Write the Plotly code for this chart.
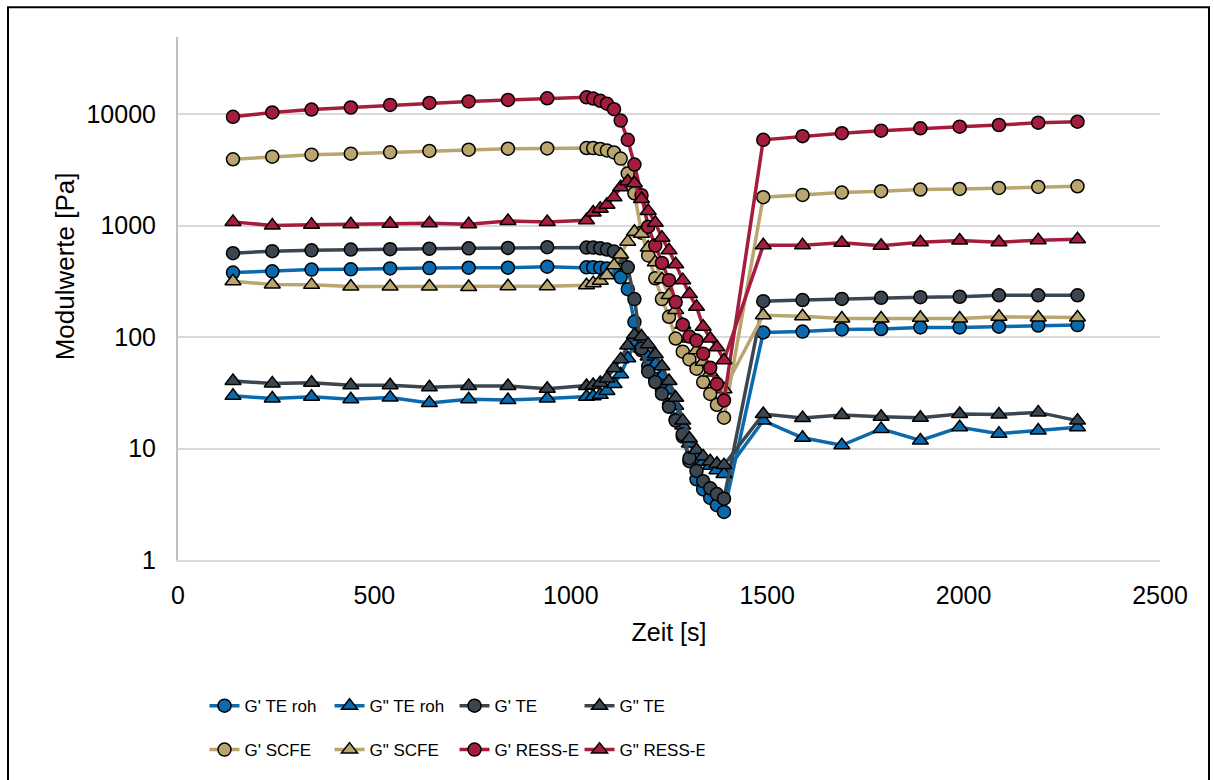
import plotly.graph_objects as go

# Measurement times [s]
zeit = [140, 240, 340, 440, 540, 640, 740, 840, 940,
        1040, 1057, 1075, 1092, 1110, 1127, 1145, 1162, 1180, 1197, 1215,
        1232, 1250, 1267, 1285, 1302, 1320, 1337, 1355, 1372, 1390,
        1490, 1590, 1690, 1790, 1890, 1990, 2090, 2190, 2290]

# Moduli [Pa]
g1_te_roh = [379, 389, 403, 405, 413, 416, 419, 419, 428,
             422, 422, 419, 413, 389, 344, 269, 137, 76, 55, 42,
             33, 24.7, 18.2, 12.8, 7.7, 5.3, 4.3, 3.6, 3.1, 2.7,
             110, 112, 117, 118, 122, 122, 124, 127, 128]
g2_te_roh = [29.7, 28.1, 29.1, 27.7, 28.7, 25.6, 27.7, 27.2, 28.1,
             29.1, 29.4, 30.3, 32.9, 37.9, 46.5, 64.5, 85.8, 79, 67, 57,
             44.7, 33.5, 24.2, 16.1, 11.1, 8.7, 7.6, 7.0, 6.4, 5.9,
             17.8, 12.5, 10.7, 15.0, 11.8, 15.5, 13.6, 14.5, 15.5]
g1_te = [565, 590, 600, 610, 615, 620, 625, 630, 640,
         635, 635, 626, 610, 585, 517, 422, 219, 79, 49, 39.5,
         31, 23.7, 17.8, 13.4, 8.2, 6.3, 5.1, 4.4, 3.9, 3.55,
         210, 215, 220, 225, 228, 230, 237, 237, 237]
g2_te = [40.3, 38.4, 38.9, 36.9, 36.9, 35.4, 36.4, 36.4, 34.4,
         36.4, 37.2, 38.7, 42.4, 52.6, 63.1, 84, 105, 101, 86, 70,
         54.7, 40.3, 28.5, 17.8, 12.3, 9.7, 8.5, 7.7, 7.3, 7.1,
         20.4, 18.8, 20.0, 19.3, 18.9, 20.4, 20.2, 21.1, 17.8]
g1_scfe = [3935, 4155, 4330, 4420, 4540, 4670, 4795, 4895, 4925,
           4965, 4960, 4870, 4730, 4530, 3990, 2940, 1950, 863, 540, 337,
           219, 152, 97, 74, 63, 52, 39.5, 30.9, 24.7, 18.9,
           1798, 1885, 1980, 2034, 2106, 2132, 2175, 2220, 2253]
g2_scfe = [317, 296, 294, 284, 284, 284, 281, 286, 286,
           292, 304, 320, 358, 440, 550, 718, 880, 845, 635, 468,
           330, 238, 175, 129, 97, 76, 60, 48, 40, 34,
           157, 154, 147, 147, 149, 147, 152, 150, 150]
g1_ress = [9460, 10350, 11000, 11470, 12100, 12600, 13000, 13400, 13870,
           14150, 13800, 13180, 12400, 11070, 8750, 5880, 3530, 1875, 977, 662,
           463, 324, 206, 129, 101, 93, 71, 53, 38, 27,
           5880, 6340, 6740, 7110, 7470, 7715, 7990, 8380, 8550]
g2_ress = [1080, 1000, 1020, 1030, 1040, 1050, 1030, 1100, 1080,
           1115, 1310, 1420, 1540, 1800, 2210, 2500, 2400, 1730, 1350, 1060,
           780, 600, 450, 324, 243, 187, 124, 97, 81, 62,
           665, 665, 700, 660, 710, 735, 710, 740, 755]

x_ticks = [0, 500, 1000, 1500, 2000, 2500]
y_ticks = [1, 10, 100, 1000, 10000]
y_ticktext = ["1", "10", "100", "1000", "10000"]

BLUE = "#0b6aad"
DARK = "#3b4650"
TAN = "#b9a56e"
RED = "#a51d3d"

series = [
    ("G' TE roh", g1_te_roh, BLUE, "circle", "legend"),
    ('G" TE roh', g2_te_roh, BLUE, "triangle-up", "legend"),
    ("G' TE", g1_te, DARK, "circle", "legend"),
    ('G" TE', g2_te, DARK, "triangle-up", "legend"),
    ("G' SCFE", g1_scfe, TAN, "circle", "legend2"),
    ('G" SCFE', g2_scfe, TAN, "triangle-up", "legend2"),
    ("G' RESS-E", g1_ress, RED, "circle", "legend2"),
    ('G" RESS-E', g2_ress, RED, "triangle-up", "legend2"),
]

FONT = "Liberation Sans, Arial, sans-serif"

fig = go.Figure()
for name, vals, col, sym, leg in series:
    fig.add_trace(go.Scatter(
        x=zeit, y=vals, name=name, mode="lines+markers",
        line=dict(color=col, width=3.5),
        marker=dict(symbol=sym, size=13 if sym == "circle" else 14,
                    color=col, line=dict(color="#000000", width=1.5)),
        legend=leg,
    ))

leg_common = dict(orientation="h", xanchor="left", yanchor="middle",
                  font=dict(family=FONT, size=17, color="#000000"),
                  itemwidth=30, entrywidth=80, entrywidthmode="pixels",
                  bgcolor="rgba(0,0,0,0)", tracegroupgap=0)

fig.update_layout(
    width=1214, height=780,
    margin=dict(l=178, r=54, t=37, b=214),
    paper_bgcolor="white", plot_bgcolor="white",
    font=dict(family=FONT, size=25, color="#000000"),
    showlegend=True,
    legend=dict(x=0.027, y=-0.2794, **leg_common),
    legend2=dict(x=0.027, y=-0.3634, **leg_common),
    xaxis=dict(
        range=[0, 2500], tickvals=x_ticks, showgrid=False, zeroline=False,
        showline=True, linecolor="#d9d9d9", linewidth=2,
        ticks="", ticklabelstandoff=12,
        title=dict(text="Zeit [s]", standoff=15, font=dict(size=25)),
    ),
    yaxis=dict(
        type="log", range=[0, 4.692], tickvals=y_ticks, ticktext=y_ticktext,
        showgrid=True, gridcolor="#d9d9d9", gridwidth=2, zeroline=False,
        showline=True, linecolor="#c0c0c0", linewidth=2,
        ticks="", ticklabelstandoff=15,
    ),
    annotations=[dict(text="Modulwerte [Pa]", textangle=-90,
                      xref="paper", yref="paper",
                      x=(65 - 178) / 982, y=(566 - 269) / 529,
                      xanchor="center", yanchor="middle", showarrow=False,
                      font=dict(family=FONT, size=26, color="#000000"))],
    shapes=[dict(type="rect", xref="paper", yref="paper",
                 x0=(8 - 178) / 982, x1=(1209 - 178) / 982,
                 y0=(566 - 790) / 529, y1=(566 - 7) / 529,
                 line=dict(color="#000000", width=2), fillcolor="rgba(0,0,0,0)",
                 layer="below")],
)

fig.write_html("out.html")
